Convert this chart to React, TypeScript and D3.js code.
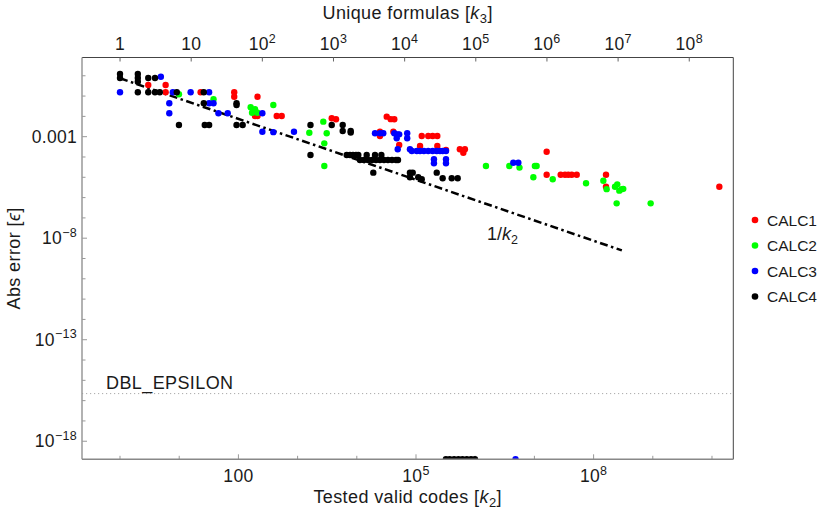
import React, { useRef, useEffect } from "react";
import * as d3 from "d3";

type Pt = [number, number];

// zero-error runs sit on the bottom edge of the frame
const FLOOR = 1.3e-19;
const DBL_EPSILON = 2.22e-16;

// [tested valid codes k2, abs error]
const calc1: Pt[] = [
  [3, 0.35], [5.9, 0.35], [5.9, 0.154], [23, 0.154], [85, 0.154], [85, 0.093], [210, 0.093],
  [191, 0.0105], [210, 0.0105], [444, 0.0105], [539, 0.0105], [3770, 0.0081], [4455, 0.0072],
  [3.2e4, 0.0097], [3.74e4, 0.0073], [4.3e4, 0.0072], [2.46e4, 0.00176], [2.46e4, 0.00108],
  [4.14e4, 0.00176], [5.2e4, 3.9e-4], [1.25e5, 0.00108], [1.61e5, 0.00108], [1.91e5, 0.00108],
  [2.29e5, 0.00108], [1.17e5, 3.5e-4], [2.29e5, 3.5e-4], [3.21e5, 2.2e-4], [5.5e5, 2.4e-4],
  [6.7e5, 2.4e-4], [6.3e5, 1.63e-4], [1.61e7, 1.8e-4], [1.61e7, 1.34e-5], [2.78e7, 1.34e-5],
  [3.29e7, 1.34e-5], [3.74e7, 1.34e-5], [4.27e7, 1.34e-5], [5.19e7, 1.34e-5], [1.62e8, 1.34e-5],
  [1.62e8, 3.4e-6], [1.33e10, 3.4e-6],
];
const calc2: Pt[] = [
  [9.9, 0.123], [38, 0.0695], [161, 0.028], [191, 0.0224], [170, 0.0152], [210, 0.0152],
  [389, 0.0365], [1577, 0.00157], [2717, 0.0055], [3100, 0.00147], [2825, 4.7e-4], [2825, 3.6e-5],
  [1.52e6, 3.6e-5], [3.77e6, 3.6e-5], [5.6e6, 3.0e-5], [1.02e7, 3.6e-5], [1.09e7, 3.6e-5],
  [9.6e6, 1.0e-5], [2.04e7, 8.0e-6], [7.45e7, 5.1e-6], [1.46e8, 6.8e-6], [1.66e8, 2.6e-6],
  [2.3e8, 3.4e-6], [2.51e8, 4.5e-6], [2.72e8, 2.2e-6], [2.98e8, 2.6e-6], [3.17e8, 2.7e-6],
  [2.45e8, 5.2e-7], [9.2e8, 5.2e-7],
];
const calc3: Pt[] = [
  [1, 0.154], [4.9, 0.9], [6.8, 0.0442], [6.8, 0.0142], [7.8, 0.154], [15.6, 0.154], [32, 0.154],
  [32, 0.0442], [38, 0.0442], [46, 0.0142], [66, 0.0142], [254, 0.0142], [254, 0.00176],
  [389, 0.00167], [869, 0.00176], [2.03e4, 0.00147], [2.46e4, 0.00147], [2.8e4, 0.00147],
  [4.3e4, 0.00147], [4.91e4, 0.0013], [5.2e4, 0.0013], [4.72e4, 8.3e-4], [7.1e4, 0.00147],
  [7.1e4, 8.3e-4], [4.91e4, 2.4e-4], [7.9e4, 2.4e-4], [8.5e4, 1.98e-4], [1.03e5, 1.98e-4],
  [1.17e5, 1.98e-4], [1.36e5, 1.98e-4], [1.61e5, 1.98e-4], [1.91e5, 1.98e-4], [2.24e5, 1.98e-4],
  [2.54e5, 1.98e-4], [2.82e5, 1.98e-4], [3.21e5, 1.98e-4], [2.01e5, 7.7e-5], [2.01e5, 4.9e-5],
  [3.21e5, 7.7e-5], [3.21e5, 4.9e-5], [4.4e6, 5.2e-5], [5.35e6, 5.2e-5], [4.8e6, FLOOR],
];
const calc4: Pt[] = [
  [1, 1.23], [1, 0.78], [2, 1.23], [2, 0.78], [2, 0.51], [3, 0.78], [3.9, 0.78], [2, 0.154],
  [3, 0.154], [3.9, 0.154], [4.7, 0.154], [9.1, 0.154], [9.9, 0.00377], [26, 0.154], [26, 0.0442],
  [27, 0.00377], [32, 0.00377], [93, 0.0442], [93, 0.0365], [93, 0.00377], [118, 0.00377],
  [1650, 0.00377], [1650, 1.26e-4], [3770, 0.00377], [5780, 0.00377], [5780, 0.0019],
  [7890, 0.0019], [7890, 0.0016],
  [6750, 1.26e-4], [7680, 1.26e-4], [8630, 1.26e-4], [9680, 1.26e-4], [1.06e4, 1.26e-4],
  [1.47e4, 1.26e-4], [2.03e4, 1.26e-4], [2.6e4, 1.26e-4],
  [1.13e4, 7.1e-5], [1.32e4, 7.1e-5], [1.55e4, 7.1e-5], [1.81e4, 7.1e-5], [2.11e4, 7.1e-5],
  [2.46e4, 7.1e-5], [2.88e4, 7.1e-5], [3.36e4, 7.1e-5], [3.93e4, 7.1e-5], [4.6e4, 7.1e-5],
  [4.96e4, 7.1e-5],
  [1.9e4, 1.69e-5], [7.9e4, 1.69e-5], [8.8e4, 1.69e-5], [7.9e4, 1.0e-5], [1.09e5, 1.0e-5],
  [1.25e5, 8.0e-6], [2.24e5, 1.69e-5], [2.82e5, 8.9e-6], [4.01e5, 8.9e-6], [5.06e5, 8.9e-6],
  [3.2e5, FLOOR], [3.7e5, FLOOR], [4.4e5, FLOOR], [5.2e5, FLOOR], [6.1e5, FLOOR], [7.2e5, FLOOR],
  [8.5e5, FLOOR], [9.9e5, FLOOR],
];

const seriesNames = ["CALC1", "CALC2", "CALC3", "CALC4"];
const seriesColors = ["#ff0000", "#00ff00", "#0000ff", "#000000"];
const seriesData = [calc1, calc2, calc3, calc4];

// 1/k2 guide line, end points
const guideLine: Pt[] = [[1, 0.75], [3e8, 2.5e-9]];

const bottomTicks = [100, 1e5, 1e8];
const bottomTickLabels = [["100", ""], ["10", "5"], ["10", "8"]];
const topTicks = [1, 10, 1e2, 1e3, 1e4, 1e5, 1e6, 1e7, 1e8];
const topTickLabels = [["1", ""], ["10", ""], ["10", "2"], ["10", "3"], ["10", "4"], ["10", "5"], ["10", "6"], ["10", "7"], ["10", "8"]];
const leftTicks = [1e-3, 1e-8, 1e-13, 1e-18];
const leftTickLabels = [["0.001", ""], ["10", "\u22128"], ["10", "\u221213"], ["10", "\u221218"]];

const FONT = "'Liberation Sans', Arial, sans-serif";
const INK = "#1a1a1a";

export default function App() {
  const svgRef = useRef<SVGSVGElement>(null);

  useEffect(() => {
    const svg = d3.select(svgRef.current);
    svg.selectAll("*").remove();
    svg.attr("font-family", FONT);

    const left = 82, right = 733.3, top = 57.5, bottom = 459.3;
    const x = d3.scaleLog().domain([0.228, 2.29e10]).range([left, right]);
    const x3 = d3.scaleLog().domain([0.292, 4.16e8]).range([left, right]);
    const y = d3.scaleLog().domain([1.29e-19, 7.94]).range([bottom, top]);

    svg.append("clipPath").attr("id", "plot-clip")
      .append("rect").attr("x", left).attr("y", top).attr("width", right - left).attr("height", bottom - top);

    // tick label with optional superscript
    const label = (g: any, px: number, py: number, base: string, sup: string, anchor: string) => {
      const t = g.append("text").attr("x", px).attr("y", py).attr("text-anchor", anchor)
        .attr("font-size", 17.5).attr("letter-spacing", 0.3).attr("fill", INK);
      t.append("tspan").text(base);
      if (sup) t.append("tspan").attr("dy", -7.5).attr("font-size", 12.5).text(sup);
    };

    // frame (top / right)
    svg.append("line").attr("x1", left).attr("x2", right).attr("y1", top).attr("y2", top)
      .attr("stroke", "#444").attr("stroke-width", 1);
    svg.append("line").attr("x1", right).attr("x2", right).attr("y1", top).attr("y2", bottom)
      .attr("stroke", "#444").attr("stroke-width", 1);

    // bottom ticks: every decade, labels at a few
    const decadesX = d3.range(0, 11).map((e) => Math.pow(10, e));
    decadesX.forEach((v) => {
      const major = bottomTicks.includes(v);
      svg.append("line").attr("x1", x(v)).attr("x2", x(v)).attr("y1", bottom).attr("y2", bottom - (major ? 5 : 3.5))
        .attr("stroke", "#999").attr("stroke-width", 1);
    });
    bottomTicks.forEach((v, i) => label(svg, x(v), 482, bottomTickLabels[i][0], bottomTickLabels[i][1], "middle"));

    // top ticks (k3)
    topTicks.forEach((v, i) => {
      svg.append("line").attr("x1", x3(v)).attr("x2", x3(v)).attr("y1", top).attr("y2", top + 4)
        .attr("stroke", "#666").attr("stroke-width", 1);
      label(svg, x3(v), 50, topTickLabels[i][0], topTickLabels[i][1], "middle");
    });

    // left ticks
    const decadesY = d3.range(-18, 1).map((e) => Math.pow(10, e));
    decadesY.forEach((v) => {
      const major = leftTicks.some((t) => Math.abs(Math.log10(t) - Math.log10(v)) < 1e-6);
      svg.append("line").attr("x1", left).attr("x2", left + (major ? 5 : 3.5)).attr("y1", y(v)).attr("y2", y(v))
        .attr("stroke", "#999").attr("stroke-width", 1);
    });
    leftTicks.forEach((v, i) => label(svg, 77, y(v) + 6, leftTickLabels[i][0], leftTickLabels[i][1], "end"));

    // DBL_EPSILON
    svg.append("line").attr("x1", left).attr("x2", right).attr("y1", y(DBL_EPSILON)).attr("y2", y(DBL_EPSILON))
      .attr("stroke", "#aaa").attr("stroke-width", 1).attr("stroke-dasharray", "1.2,2.8");
    svg.append("text").attr("x", 106).attr("y", 389).attr("font-size", 18).attr("letter-spacing", 0.4)
      .attr("fill", INK).text("DBL_EPSILON");

    // 1/k2 guide
    const line = d3.line<Pt>().x((d) => x(d[0])).y((d) => y(d[1]));
    svg.append("path").attr("d", line(guideLine)).attr("fill", "none").attr("stroke", "#000")
      .attr("stroke-width", 2.5).attr("stroke-dasharray", "8,3.5,2.5,3.5");
    const gl = svg.append("text").attr("x", 487).attr("y", 240).attr("font-size", 18).attr("fill", INK);
    gl.append("tspan").text("1/");
    gl.append("tspan").attr("font-style", "italic").text("k");
    gl.append("tspan").attr("dy", 4).attr("font-size", 12.5).text("2");

    // points
    const pts = svg.append("g").attr("clip-path", "url(#plot-clip)");
    seriesData.forEach((data, si) => {
      pts.append("g").selectAll("circle").data(data).join("circle")
        .attr("cx", (d) => x(d[0])).attr("cy", (d) => y(d[1])).attr("r", 3.2)
        .attr("fill", seriesColors[si]);
    });

    // left / bottom axis lines on top
    svg.append("line").attr("x1", left).attr("x2", left).attr("y1", top).attr("y2", bottom)
      .attr("stroke", "#999").attr("stroke-width", 1.5);
    svg.append("line").attr("x1", left).attr("x2", right).attr("y1", bottom).attr("y2", bottom)
      .attr("stroke", "#888").attr("stroke-width", 1.5);

    // axis titles
    const title = (t: any, text: string, sub: string) => {
      t.append("tspan").text(text);
      t.append("tspan").attr("font-style", "italic").text("k");
      t.append("tspan").attr("dy", 4).attr("font-size", 13).text(sub);
      t.append("tspan").attr("dy", -4).text("]");
    };
    const tt = svg.append("text").attr("x", (left + right) / 2).attr("y", 19).attr("text-anchor", "middle")
      .attr("font-size", 18).attr("letter-spacing", 0.4).attr("fill", INK);
    title(tt, "Unique formulas [", "3");

    const bt = svg.append("text").attr("x", (left + right) / 2).attr("y", 503).attr("text-anchor", "middle")
      .attr("font-size", 18).attr("letter-spacing", 0.4).attr("fill", INK);
    title(bt, "Tested valid codes [", "2");

    const lt = svg.append("text").attr("transform", `translate(20,${(top + bottom) / 2}) rotate(-90)`)
      .attr("text-anchor", "middle").attr("font-size", 18).attr("letter-spacing", 0.4).attr("fill", INK);
    lt.append("tspan").text("Abs error [");
    lt.append("tspan").attr("font-style", "italic").text("\u03f5");
    lt.append("tspan").text("]");

    // legend
    const lg = svg.append("g");
    seriesNames.forEach((name, i) => {
      const cy = 220 + i * 25.5;
      lg.append("circle").attr("cx", 755).attr("cy", cy).attr("r", 3.3).attr("fill", seriesColors[i]);
      lg.append("text").attr("x", 767).attr("y", cy + 5.5).attr("font-size", 15.5).attr("fill", INK).text(name);
    });
  }, []);

  return <svg ref={svgRef} width={830} height={516} style={{ position: "absolute", left: 0, top: 0 }} />;
}
